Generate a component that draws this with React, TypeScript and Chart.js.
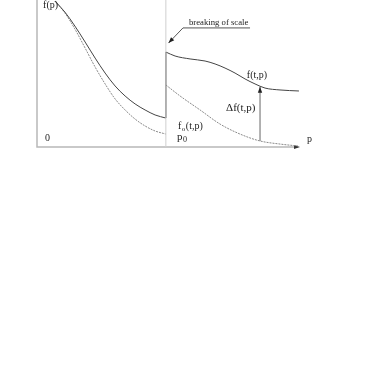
import React, { useEffect, useRef } from "react";
import { Chart, registerables } from "chart.js";

Chart.register(...registerables);

// f(p) before the break (solid, upper)
const pLeft = [0.68, 1.06, 1.44, 1.83, 2.21, 2.59, 2.97, 3.35, 3.73, 4.11, 4.49, 4.9];
const fLeft = [9.93, 9.18, 8.23, 7.14, 6.05, 5.03, 4.15, 3.47, 2.93, 2.52, 2.18, 1.97];
// f0 before the break (dotted, lower)
const p0Left = [0.68, 1.06, 1.44, 1.83, 2.21, 2.59, 2.97, 3.35, 3.73, 4.11, 4.49, 4.9];
const f0Left = [9.93, 9.12, 8.03, 6.73, 5.44, 4.29, 3.27, 2.52, 1.9, 1.43, 1.09, 0.88];
// f(t,p) after the break
const pRight = [4.9, 5.25, 5.82, 6.39, 6.77, 7.15, 7.53, 7.91, 8.29, 8.67, 9.24, 9.96];
const fRight = [6.46, 6.19, 5.99, 5.85, 5.65, 5.37, 5.03, 4.63, 4.29, 4.01, 3.88, 3.81];
// f0(t,p) after the break
const p0Right = [4.9, 5.44, 6.2, 6.96, 7.72, 8.48, 9.24, 9.92];
const f0Right = [4.22, 3.47, 2.52, 1.56, 0.88, 0.41, 0.2, 0.07];

const pBreak = 4.9;
const jumpF = [1.97, 6.46];
const deltaP = 8.48;
const deltaF = [0.41, 4.1];
const leaderP = [8.1, 5.55, 5.0];
const leaderF = [8.1, 8.1, 7.07];

const labelMain = ["f(p)", "0", "p", "f", "Δf(t,p)", "f(t,p)", "p", "breaking of scale"];
const labelSub = ["", "", "0", "o", "", "", "", ""];
const labelRest = ["", "", "", "(t,p)", "", "", "", ""];
const labelP = [0.23, 0.3, 5.32, 5.36, 7.19, 7.98, 10.27, 5.78];
const labelF = [9.66, 0.61, 0.68, 1.43, 2.65, 4.9, 0.54, 8.47];
const labelSize = [10, 10, 11, 10, 11, 10, 10, 8.7];

const zip = (xs: number[], ys: number[]) => xs.map((x, i) => ({ x, y: ys[i] }));

const FONT = "'Liberation Serif', 'DejaVu Serif', serif";

const decorPlugin = {
  id: "decor",
  beforeDatasetsDraw(chart: any) {
    const { ctx, chartArea } = chart;
    const { left, right, top, bottom } = chartArea;
    ctx.save();
    ctx.strokeStyle = "#b8b8b8";
    ctx.lineWidth = 1.5;
    ctx.beginPath();
    ctx.moveTo(left, top);
    ctx.lineTo(left, bottom);
    ctx.lineTo(right - 2, bottom);
    ctx.stroke();
    ctx.fillStyle = "#333";
    ctx.beginPath();
    ctx.moveTo(right, bottom);
    ctx.lineTo(right - 6, bottom - 2);
    ctx.lineTo(right - 6, bottom + 2);
    ctx.closePath();
    ctx.fill();
    ctx.restore();
  },
  afterDatasetsDraw(chart: any) {
    const { ctx } = chart;
    const xs = chart.scales.x;
    const ys = chart.scales.y;
    ctx.save();
    // arrowheads
    chart.data.datasets.forEach((ds: any, i: number) => {
      if (!ds.arrowEnd) return;
      const pts = chart.getDatasetMeta(i).data;
      const a = pts[pts.length - 2];
      const b = pts[pts.length - 1];
      const ang = Math.atan2(b.y - a.y, b.x - a.x);
      const L = 6, W = 2.2;
      ctx.fillStyle = "#222";
      ctx.beginPath();
      ctx.moveTo(b.x, b.y);
      ctx.lineTo(b.x - L * Math.cos(ang) + W * Math.sin(ang), b.y - L * Math.sin(ang) - W * Math.cos(ang));
      ctx.lineTo(b.x - L * Math.cos(ang) - W * Math.sin(ang), b.y - L * Math.sin(ang) + W * Math.cos(ang));
      ctx.closePath();
      ctx.fill();
    });
    // labels
    ctx.fillStyle = "#222";
    ctx.textBaseline = "middle";
    ctx.textAlign = "left";
    labelMain.forEach((t, i) => {
      const x = xs.getPixelForValue(labelP[i]);
      const y = ys.getPixelForValue(labelF[i]);
      const s = labelSize[i];
      ctx.font = `${s}px ${FONT}`;
      ctx.fillText(t, x, y);
      let cx = x + ctx.measureText(t).width;
      if (labelSub[i]) {
        ctx.font = `${Math.round(s * 0.7)}px ${FONT}`;
        ctx.fillText(labelSub[i], cx + 0.5, y + s * 0.3);
        cx += ctx.measureText(labelSub[i]).width + 1;
      }
      if (labelRest[i]) {
        ctx.font = `${s}px ${FONT}`;
        ctx.fillText(labelRest[i], cx, y);
      }
    });
    ctx.restore();
  },
};

export default function App() {
  const ref = useRef<HTMLCanvasElement>(null);
  useEffect(() => {
    if (!ref.current) return;
    const solid = { borderColor: "#444", borderWidth: 1, pointRadius: 0, fill: false, clip: false as any };
    const dotted = { borderColor: "#8a8a8a", borderWidth: 1, borderDash: [2, 1], pointRadius: 0, fill: false, clip: false as any };
    const chart = new Chart(ref.current, {
      type: "line",
      data: {
        datasets: [
          { data: [{ x: pBreak, y: 0 }, { x: pBreak, y: 10 }], borderColor: "#cfcfcf", borderWidth: 1, pointRadius: 0, clip: false as any },
          { ...solid, data: zip(pLeft, fLeft), cubicInterpolationMode: "monotone" },
          { ...dotted, data: zip(p0Left, f0Left), cubicInterpolationMode: "monotone" },
          { ...solid, borderWidth: 1.2, data: [{ x: pBreak, y: jumpF[0] }, { x: pBreak, y: jumpF[1] }] },
          { ...solid, data: zip(pRight, fRight), cubicInterpolationMode: "monotone" },
          { ...dotted, data: zip(p0Right, f0Right), cubicInterpolationMode: "monotone" },
          { ...solid, borderColor: "#666", data: [{ x: deltaP, y: deltaF[0] }, { x: deltaP, y: deltaF[1] }], arrowEnd: true } as any,
          { ...solid, borderColor: "#555", data: zip(leaderP, leaderF), arrowEnd: true } as any,
        ],
      },
      options: {
        animation: false,
        responsive: false,
        events: [],
        layout: { padding: { left: 37, right: 82, top: 0, bottom: 235 } },
        plugins: { legend: { display: false }, tooltip: { enabled: false } },
        scales: {
          x: { type: "linear", min: 0, max: 10, display: false },
          y: { type: "linear", min: 0, max: 10, display: false },
        },
      },
      plugins: [decorPlugin],
    });
    return () => chart.destroy();
  }, []);
  return (
    <canvas
      ref={ref}
      width={382}
      height={382}
      style={{ position: "absolute", left: 0, top: 0, width: 382, height: 382, background: "#fff" }}
    />
  );
}
